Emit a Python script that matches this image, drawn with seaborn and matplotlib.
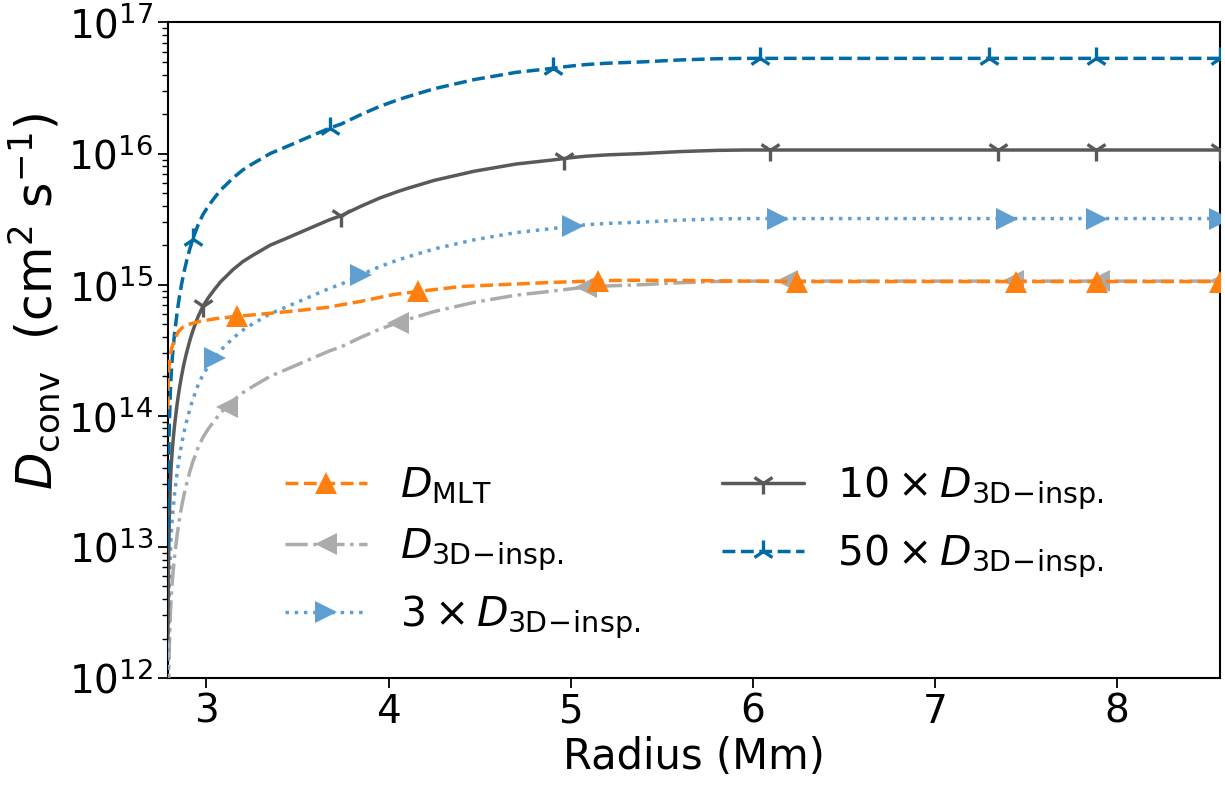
import numpy as np
import matplotlib
matplotlib.use("Agg")
import matplotlib.pyplot as plt
import seaborn as sns

# ---------------- data ----------------
# Radius grid (Mm) and 3D-inspired diffusion coefficient D_3D-insp. (cm^2 s^-1)
radius_3d = [2.788, 2.792, 2.796, 2.802, 2.807, 2.813, 2.824, 2.840, 2.851, 2.863,
             2.876, 2.890, 2.909, 2.925, 2.953, 2.980, 3.010, 3.045, 3.080, 3.112,
             3.145, 3.200, 3.250, 3.350, 3.450, 3.550, 3.677, 3.740, 3.851, 3.950,
             4.050, 4.105, 4.250, 4.470, 4.700, 4.900, 4.962, 5.011, 5.086, 5.200,
             5.393, 5.600, 5.800, 5.950, 6.037, 6.095, 6.136, 6.190, 7.294, 7.345,
             7.397, 7.426, 7.882, 7.885, 7.887, 7.898, 8.565]
d_3d = [2.0e11, 7.9e11, 1.66e12, 3.09e12, 4.27e12, 5.62e12, 8.24e12, 1.26e13, 1.60e13, 2.0e13,
        2.47e13, 2.99e13, 3.76e13, 4.44e13, 5.66e13, 6.82e13, 7.94e13, 9.23e13, 1.06e14, 1.17e14,
        1.30e14, 1.50e14, 1.66e14, 2.0e14, 2.29e14, 2.63e14, 3.13e14, 3.36e14, 3.98e14, 4.57e14,
        5.13e14, 5.43e14, 6.24e14, 7.33e14, 8.32e14, 8.93e14, 9.16e14, 9.33e14, 9.55e14, 9.77e14,
        1.0e15, 1.035e15, 1.057e15, 1.064e15, 1.064e15, 1.064e15, 1.064e15, 1.064e15, 1.064e15, 1.064e15,
        1.064e15, 1.064e15, 1.064e15, 1.064e15, 1.064e15, 1.064e15, 1.064e15]

# Mixing-length-theory coefficient D_MLT
radius_mlt = [2.788, 2.790, 2.800, 2.812, 2.827, 2.845, 2.870, 2.910, 2.964, 3.050,
              3.167, 3.300, 3.404, 3.520, 3.663, 3.846, 4.028, 4.160, 4.398, 4.619,
              4.895, 5.148, 5.300, 5.630, 6.000, 6.244, 7.444, 7.890, 8.565]
d_mlt = [1.12e14, 2.0e14, 2.85e14, 3.39e14, 3.84e14, 4.37e14, 4.73e14, 5.01e14, 5.25e14, 5.50e14,
         5.73e14, 5.96e14, 6.15e14, 6.38e14, 6.71e14, 7.45e14, 8.41e14, 8.87e14, 9.68e14, 1.0e15,
         1.04e15, 1.07e15, 1.08e15, 1.076e15, 1.062e15, 1.057e15, 1.057e15, 1.057e15, 1.057e15]

# multiplication factors of D_3D-insp.
factors = [1, 3, 10, 50]

# radii where the markers sit on each curve
markers_mlt = [3.167, 4.160, 5.148, 6.244, 7.444, 7.890, 8.565]
markers_3d = {
    1:  [3.112, 4.050, 5.086, 6.190, 7.426, 7.898, 8.565],
    3:  [3.045, 3.851, 5.011, 6.136, 7.397, 7.887, 8.565],
    10: [2.980, 3.740, 4.962, 6.095, 7.345, 7.885, 8.565],
    50: [2.925, 3.677, 4.900, 6.037, 7.294, 7.882, 8.565],
}

labels = {
    "mlt": r"$D_{\rm MLT}$",
    1: r"$D_{\rm 3D\!-\!insp.}$",
    3: r"$3\times D_{\rm 3D\!-\!insp.}$",
    10: r"$10\times D_{\rm 3D\!-\!insp.}$",
    50: r"$50\times D_{\rm 3D\!-\!insp.}$",
}

# ---------------- styling ----------------
sns.set_style("ticks")
plt.rcParams["font.family"] = ["DejaVu Sans"]
plt.rcParams["mathtext.fontset"] = "dejavusans"
for key in ["text.color", "axes.labelcolor", "xtick.color", "ytick.color", "axes.edgecolor"]:
    plt.rcParams[key] = "black"

colors = {"mlt": "#FF800E", 1: "#ABABAB", 3: "#5F9ED1", 10: "#595959", 50: "#006BA4"}
styles = {"mlt": "--", 1: "-.", 3: ":", 10: "-", 50: "--"}
marks = {"mlt": "^", 1: "<", 3: ">", 10: "1", 50: "2"}

fig = plt.figure(figsize=(12.25, 7.87), dpi=100)
ax = fig.add_axes([0.137, 0.1385, 0.859, 0.833])

LW = 2.5
MS = 16


def idx_of(grid, pts):
    g = np.asarray(grid)
    return [int(np.argmin(np.abs(g - p))) for p in pts]


sns.lineplot(x=radius_mlt, y=d_mlt, ax=ax, color=colors["mlt"], linestyle=styles["mlt"],
             marker=marks["mlt"], markersize=MS, markeredgewidth=0, linewidth=LW,
             markevery=idx_of(radius_mlt, markers_mlt), label=labels["mlt"], zorder=4)

for f in factors:
    yvals = np.asarray(d_3d) * f
    tri = marks[f] in ("1", "2")
    sns.lineplot(x=radius_3d, y=yvals, ax=ax, color=colors[f], linestyle=styles[f],
                 marker=marks[f], markersize=MS,
                 markeredgewidth=(2.4 if tri else 0),
                 markeredgecolor=colors[f], linewidth=LW,
                 markevery=idx_of(radius_3d, markers_3d[f]), label=labels[f], zorder=3)

for line in ax.get_lines():
    line.set_linewidth(LW)
    line.set_markersize(MS)

ax.set_yscale("log")
ax.set_ylim(1e12, 1e17)
ax.set_xlim(2.788, 8.565)
ax.set_xticks([3, 4, 5, 6, 7, 8])

ax.set_xlabel("Radius (Mm)", fontsize=30, labelpad=4)
ax.set_ylabel(r"$D_{\rm conv}$  (cm$^2$ s$^{-1}$)", fontsize=35)
ax.yaxis.set_label_coords(-0.1, 0.574)

ax.tick_params(axis="both", which="major", labelsize=28, length=7, width=1.3,
               color="black", labelcolor="black")
ax.tick_params(axis="y", which="minor", length=4, width=1.0, color="black")
for s in ax.spines.values():
    s.set_visible(True)
    s.set_linewidth(1.5)
    s.set_color("black")

leg = ax.legend(loc="lower center", ncol=2, frameon=False, fontsize=29.5,
                handlelength=2.0, columnspacing=2.0, numpoints=1)
for h in leg.legend_handles:
    h.set_linewidth(LW)
    h.set_markersize(MS)

fig.savefig("out.png", dpi=100)
